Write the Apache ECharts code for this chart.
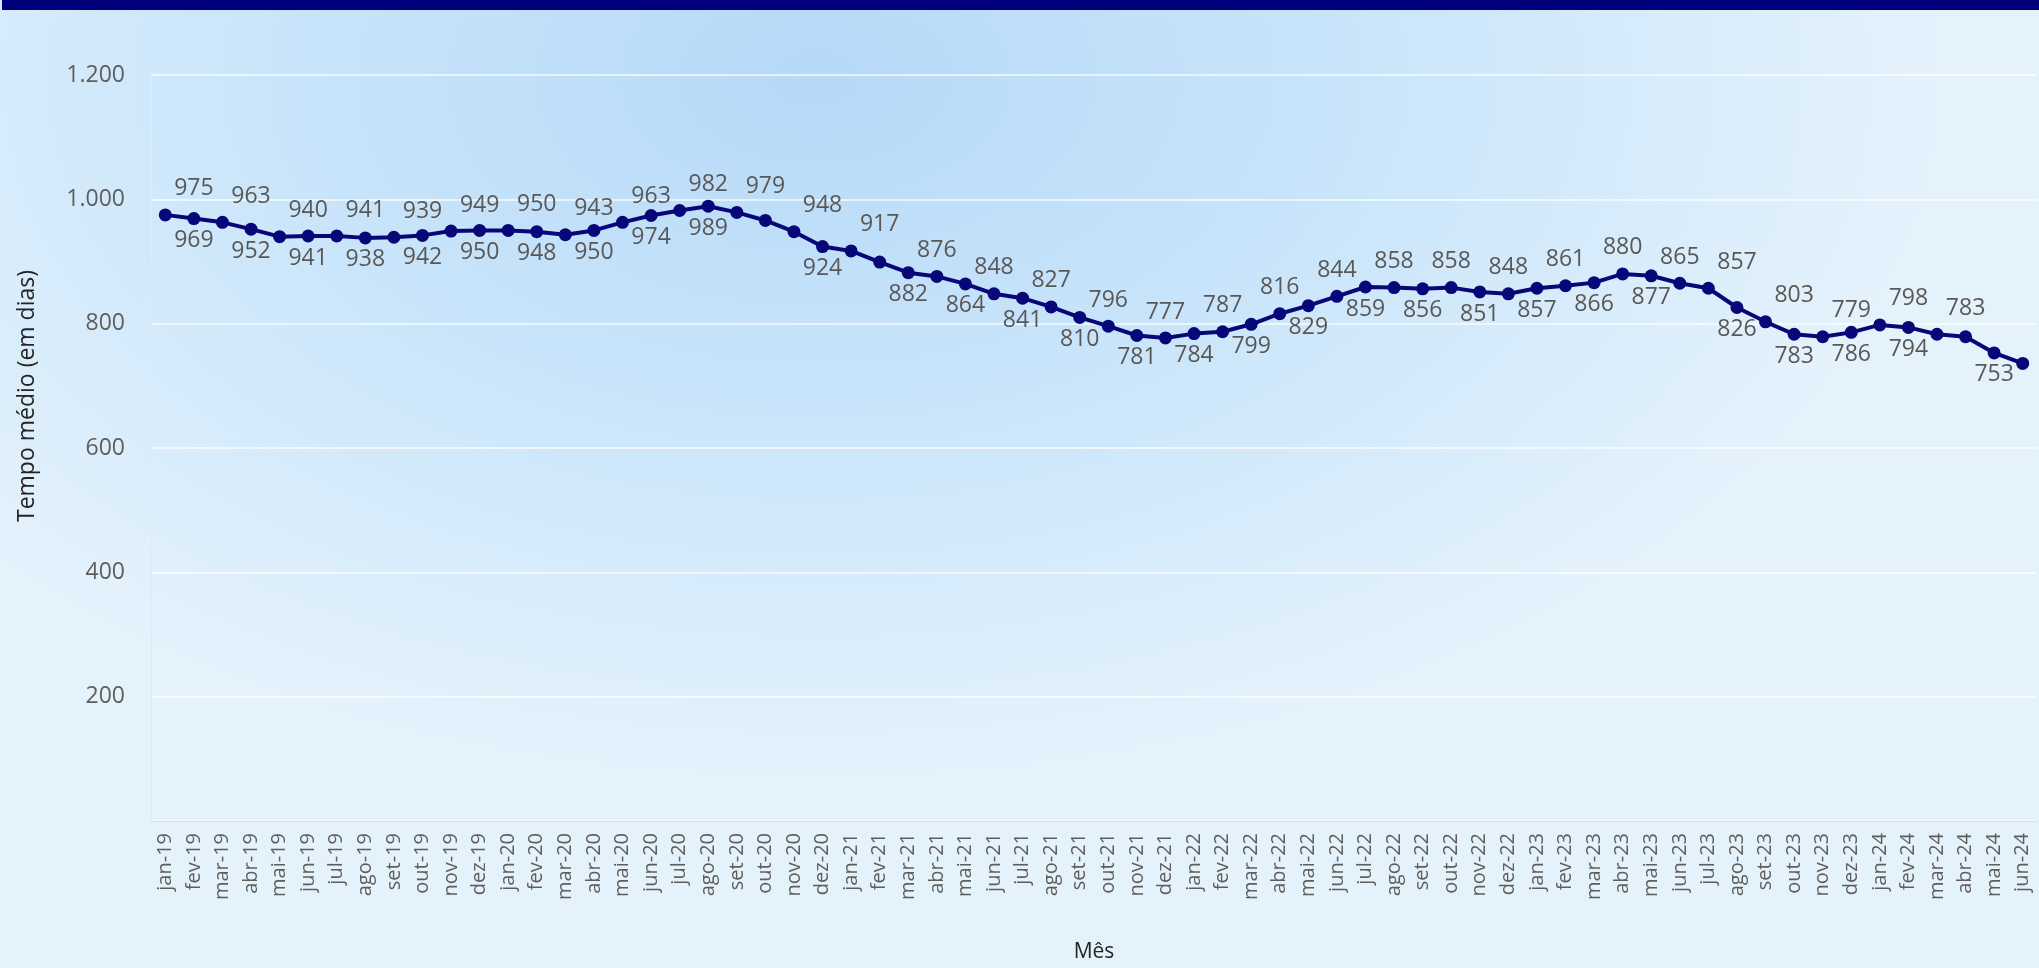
<!DOCTYPE html>
<html>
<head>
<meta charset="utf-8">
<title>Tempo médio (em dias) por mês</title>
<script src="https://cdn.jsdelivr.net/npm/echarts@6/dist/echarts.min.js"></script>
<style>
  html, body { margin: 0; padding: 0; }
  body {
    width: 2039px; height: 968px; overflow: hidden;
    background: radial-gradient(ellipse 55% 72% at 40% 8%, #b6d9f8 0%, #c8e4fa 45%, #e4f2fc 100%);
  }
  #main { width: 2039px; height: 968px; }
</style>
</head>
<body>
<div id="main"></div>
<script>
// months on the x axis
var months = [
  'jan-19','fev-19','mar-19','abr-19','mai-19','jun-19','jul-19','ago-19','set-19','out-19','nov-19','dez-19',
  'jan-20','fev-20','mar-20','abr-20','mai-20','jun-20','jul-20','ago-20','set-20','out-20','nov-20','dez-20',
  'jan-21','fev-21','mar-21','abr-21','mai-21','jun-21','jul-21','ago-21','set-21','out-21','nov-21','dez-21',
  'jan-22','fev-22','mar-22','abr-22','mai-22','jun-22','jul-22','ago-22','set-22','out-22','nov-22','dez-22',
  'jan-23','fev-23','mar-23','abr-23','mai-23','jun-23','jul-23','ago-23','set-23','out-23','nov-23','dez-23',
  'jan-24','fev-24','mar-24','abr-24','mai-24','jun-24'
];

// tempo médio (em dias)
var tempoMedio = [
  975, 969, 963, 952, 940, 941, 941, 938, 939, 942, 949, 950,
  950, 948, 943, 950, 963, 974, 982, 989, 979, 966, 948, 924,
  917, 899, 882, 876, 864, 848, 841, 827, 810, 796, 781, 777,
  784, 787, 799, 816, 829, 844, 859, 858, 856, 858, 851, 848,
  857, 861, 866, 880, 877, 865, 857, 826, 803, 783, 779, 786,
  798, 794, 783, 779, 753, 736
];

var yTicks = [0, 200, 400, 600, 800, 1000, 1200];

// label placement, as the original report drew it
var hiddenLabels = [21, 25, 63, 65];
var aboveShifted = [0, 2, 4, 6, 8, 10, 12, 14, 16, 18, 20, 22, 24, 54, 56, 58, 60, 62];

var FONT = '"Open Sans", "Noto Sans", sans-serif';
var gridLeft = 151, gridRight = 2;
var band = (2039 - gridLeft - gridRight) / months.length;
var SYM = 13, half = SYM / 2;

function fmt(v) {
  return String(v).replace(/\B(?=(\d{3})+(?!\d))/g, '.');
}

function labelFor(i) {
  if (hiddenLabels.indexOf(i) >= 0) return { show: false };
  if (aboveShifted.indexOf(i) >= 0) {
    return { show: true, position: [half + band, -8], align: 'center', verticalAlign: 'bottom' };
  }
  if (i >= 26 && i <= 53 && i % 2 === 1) {
    return { show: true, position: [half, -8], align: 'center', verticalAlign: 'bottom' };
  }
  return { show: true, position: [half, SYM + 4], align: 'center', verticalAlign: 'top' };
}

var myChart = echarts.init(document.getElementById('main'));

var option = {
  backgroundColor: 'transparent',
  animation: false,
  graphic: [
    { type: 'rect', left: 2, top: 0, shape: { width: 2037, height: 10 }, style: { fill: '#00007d' }, z: 10 },
    {
      type: 'text', x: 27, y: 396, rotation: Math.PI / 2,
      style: {
        text: 'Tempo médio (em dias)', fontFamily: FONT, fontSize: 23, fill: '#252423',
        align: 'center', verticalAlign: 'middle'
      }
    }
  ],
  grid: { left: gridLeft, right: gridRight, top: 75, bottom: 143 },
  xAxis: {
    type: 'category',
    data: months,
    boundaryGap: true,
    name: 'Mês',
    nameLocation: 'middle',
    nameGap: 121,
    nameTextStyle: { fontFamily: FONT, fontSize: 21, color: '#252423' },
    axisLine: { lineStyle: { color: '#d6dde4', width: 1 } },
    axisTick: { show: false },
    axisLabel: { interval: 0, rotate: 90, margin: 12, fontFamily: FONT, fontSize: 20, color: '#605e5c' }
  },
  yAxis: {
    type: 'value',
    min: yTicks[0],
    max: yTicks[yTicks.length - 1],
    interval: 200,
    axisLine: { show: true, lineStyle: { color: '#e2eaf1' } },
    axisTick: { show: false },
    splitLine: { lineStyle: { color: '#ffffff', width: 1.5, opacity: 0.85 } },
    axisLabel: {
      margin: 26, fontFamily: FONT, fontSize: 23, color: '#605e5c',
      showMinLabel: false,
      formatter: fmt
    }
  },
  series: [
    {
      type: 'line',
      data: tempoMedio.map(function (v, i) { return { value: v, label: labelFor(i) }; }),
      symbol: 'circle',
      symbolSize: SYM,
      showAllSymbol: true,
      lineStyle: { color: '#07077a', width: 4 },
      itemStyle: { color: '#07077a' },
      label: { fontFamily: FONT, fontSize: 23, color: '#5a5856' },
      labelLayout: { hideOverlap: false }
    }
  ]
};

myChart.setOption(option);
</script>
</body>
</html>
